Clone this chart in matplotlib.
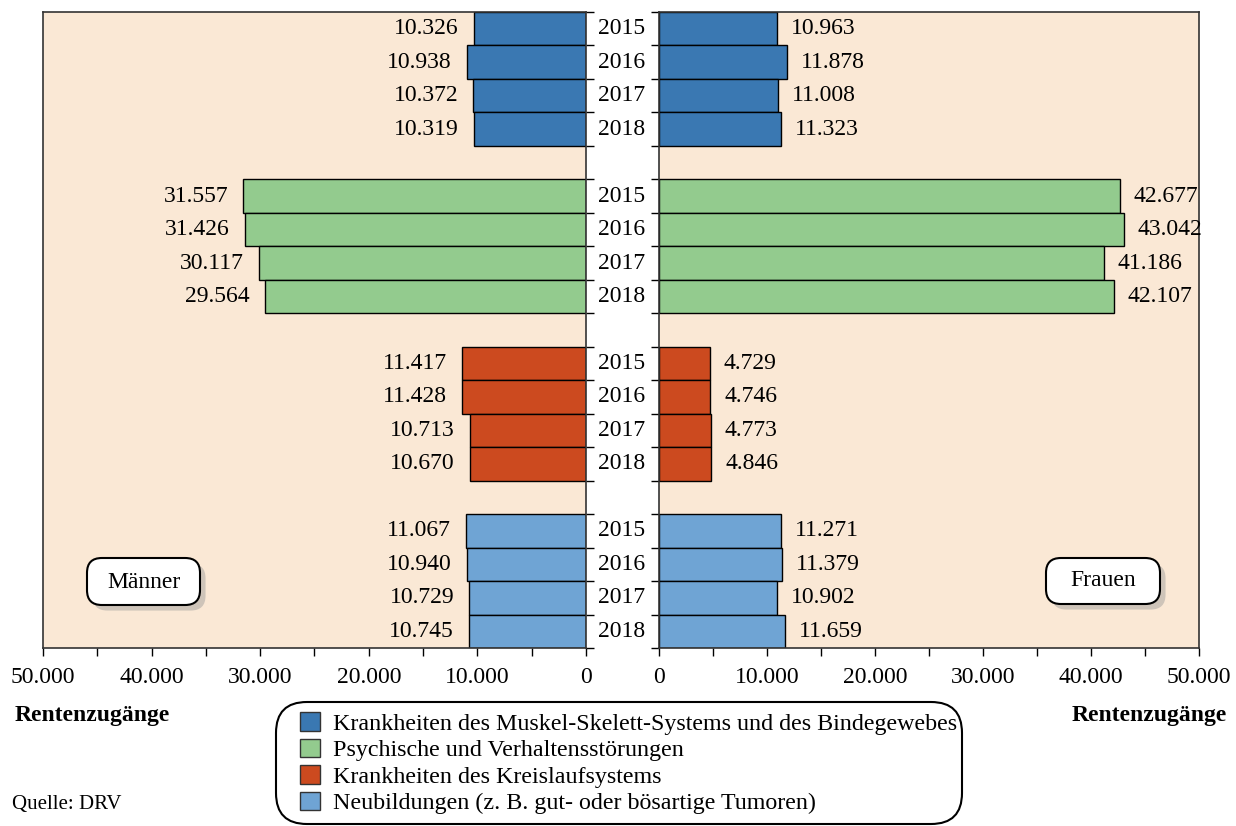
import matplotlib.pyplot as plt
import matplotlib.transforms as mtransforms
from matplotlib.patches import Patch, FancyBboxPatch
from matplotlib import patheffects as pe
from matplotlib.ticker import FixedLocator, FuncFormatter

plt.rcParams['font.family'] = ['Liberation Serif', 'DejaVu Serif']

years = ['2015', '2016', '2017', '2018']
categories = [
    'Krankheiten des Muskel-Skelett-Systems und des Bindegewebes',
    'Psychische und Verhaltensstörungen',
    'Krankheiten des Kreislaufsystems',
    'Neubildungen (z. B. gut- oder bösartige Tumoren)',
]
colors = ['#3A78B2', '#93CB8E', '#CC4A1F', '#6FA4D4']

maenner_muskel = [10326, 10938, 10372, 10319]
maenner_psych = [31557, 31426, 30117, 29564]
maenner_kreislauf = [11417, 11428, 10713, 10670]
maenner_neubild = [11067, 10940, 10729, 10745]

frauen_muskel = [10963, 11878, 11008, 11323]
frauen_psych = [42677, 43042, 41186, 42107]
frauen_kreislauf = [4729, 4746, 4773, 4846]
frauen_neubild = [11271, 11379, 10902, 11659]

maenner = [maenner_muskel, maenner_psych, maenner_kreislauf, maenner_neubild]
frauen = [frauen_muskel, frauen_psych, frauen_kreislauf, frauen_neubild]

bg = '#FAE8D5'
spine_col = '#333333'
fs = 17
W, H = 1236, 826


def fmt(v):
    return f"{int(v):,}".replace(",", ".")


def px_box(x0, y0, x1, y1, rounding, lw=1.5, shadow=False):
    # rounded box given in pixel coords measured from the top left
    box = FancyBboxPatch((x0 / W, 1 - y1 / H), (x1 - x0) / W, (y1 - y0) / H,
                         boxstyle=f'round,pad=0,rounding_size={rounding}',
                         transform=fig.transFigure, facecolor='white',
                         edgecolor='black', linewidth=lw, mutation_aspect=W / H,
                         zorder=5)
    if shadow:
        box.set_path_effects([
            pe.SimplePatchShadow(offset=(4, -4), shadow_rgbFace='#999999', alpha=0.45),
            pe.Normal()])
    fig.patches.append(box)


fig = plt.figure(figsize=(W / 100, H / 100), dpi=100)
ax_l = fig.add_axes([43 / W, 1 - 648 / H, 543 / W, 636 / H])
ax_r = fig.add_axes([659 / W, 1 - 648 / H, 540 / W, 636 / H])

n_rows = 4 * 4 + 3
for ax in (ax_l, ax_r):
    ax.set_facecolor(bg)
    ax.set_ylim(n_rows - 0.5, -0.5)
    ax.set_xlim(0, 50000)
    ax.xaxis.set_major_locator(FixedLocator(range(0, 50001, 10000)))
    ax.xaxis.set_minor_locator(FixedLocator(range(5000, 50000, 10000)))
    ax.xaxis.set_major_formatter(FuncFormatter(lambda v, p: fmt(v)))
    ax.tick_params(axis='x', which='both', direction='out', length=6,
                   width=1, labelsize=fs, pad=8, colors='black')
    ax.yaxis.set_major_locator(FixedLocator([i - 0.5 for i in range(n_rows + 1)]))
    ax.tick_params(axis='y', which='both', direction='out', length=6, width=1,
                   labelleft=False, labelright=False)
    for s in ax.spines.values():
        s.set_color(spine_col)
        s.set_linewidth(1.2)

ax_l.invert_xaxis()
ax_l.yaxis.tick_right()
ax_r.yaxis.tick_left()

trans = mtransforms.blended_transform_factory(fig.transFigure, ax_l.transData)
for g in range(4):
    for i in range(4):
        row = g * 5 + i
        m = maenner[g][i]
        f = frauen[g][i]
        ax_l.barh(row, m, height=1.0, color=colors[g], edgecolor='black',
                  linewidth=1, zorder=2)
        ax_r.barh(row, f, height=1.0, color=colors[g], edgecolor='black',
                  linewidth=1, zorder=2)
        ax_l.annotate(fmt(m), (m, row), xytext=(-11, 0), textcoords='offset points',
                      ha='right', va='center', fontsize=fs)
        ax_r.annotate(fmt(f), (f, row), xytext=(10, 0), textcoords='offset points',
                      ha='left', va='center', fontsize=fs)
        fig.text(622 / W, row, years[i], transform=trans, ha='center',
                 va='center', fontsize=fs)

# Männer / Frauen boxes
px_box(87, 558, 200, 605, 0.012, shadow=True)
px_box(1046, 558, 1160, 604, 0.012, shadow=True)
fig.text(143.5 / W, 1 - 582 / H, 'Männer', ha='center', va='center',
         fontsize=fs, zorder=6)
fig.text(1103 / W, 1 - 581 / H, 'Frauen', ha='center', va='center',
         fontsize=fs, zorder=6)

fig.text(15 / W, 1 - 716 / H, 'Rentenzugänge', ha='left', va='center',
         fontsize=fs, fontweight='bold')
fig.text(1227 / W, 1 - 716 / H, 'Rentenzugänge', ha='right', va='center',
         fontsize=fs, fontweight='bold')
fig.text(12 / W, 1 - 805 / H, 'Quelle: DRV', ha='left', va='center',
         fontsize=15)

# legend frame drawn by hand for its exact shape
px_box(276, 702, 962, 824, 0.025)

handles = [Patch(facecolor=c, edgecolor='#333333', linewidth=1) for c in colors]
leg = fig.legend(handles, categories, loc='upper left',
                 bbox_to_anchor=(300 / W, 1 - 712 / H), borderaxespad=0,
                 fontsize=17.3, handlelength=0.82, handleheight=0.82,
                 handletextpad=0.55, labelspacing=0.16, borderpad=0,
                 frameon=False)
leg.set_zorder(7)

fig.savefig('out.png', dpi=100)
